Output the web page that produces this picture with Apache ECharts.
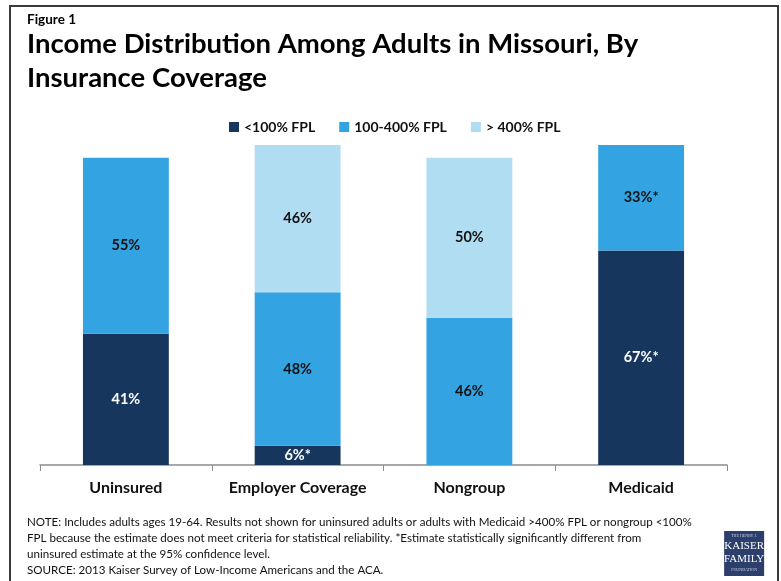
<!DOCTYPE html>
<html>
<head>
<meta charset="utf-8">
<script src="https://cdn.jsdelivr.net/npm/echarts@6/dist/echarts.min.js"></script>
<style>
  html, body { margin: 0; padding: 0; background: #fff; }
  #chart { width: 781px; height: 581px; }
</style>
</head>
<body>
<div id="chart"></div>
<script>
// Coverage groups along the x axis
const categories = ['Uninsured', 'Employer Coverage', 'Nongroup', 'Medicaid'];

// Share of adults in each income band (percent); null = not shown
const below100 = [41, 6, null, 67];
const mid100to400 = [55, 48, 46, 33];
const above400 = [null, 46, 50, null];

// Estimates significantly different from uninsured (marked with *)
const below100Star = [false, true, false, true];
const mid100to400Star = [false, false, false, true];
const above400Star = [false, false, false, false];

const seriesNames = ['<100% FPL', '100-400% FPL', '> 400% FPL'];

const FONT = 'Lato, "Open Sans", sans-serif';
const colors = ['#17365d', '#33a3e1', '#b1ddf3'];
const labelColors = ['#ffffff', '#111111', '#111111'];

function makeSeries(name, data, stars, idx) {
  return {
    name: name,
    type: 'bar',
    stack: 'total',
    barWidth: '50%',
    data: data,
    itemStyle: { color: colors[idx] },
    label: {
      show: true,
      position: 'inside',
      color: labelColors[idx],
      fontFamily: FONT,
      fontWeight: 'bold',
      fontSize: 14.5,
      formatter: p => (p.value == null ? '' : p.value + '%' + (stars[p.dataIndex] ? '*' : ''))
    }
  };
}

const chart = echarts.init(document.getElementById('chart'));
chart.setOption({
  animation: false,
  textStyle: { fontFamily: FONT },
  legend: {
    top: 115,
    left: 224,
    itemWidth: 10,
    itemHeight: 10,
    itemGap: 24,
    icon: 'rect',
    data: seriesNames,
    textStyle: { fontFamily: FONT, fontWeight: 'bold', fontSize: 14, color: '#111' }
  },
  grid: { left: 40, right: 54, top: 145, bottom: 116 },
  xAxis: {
    type: 'category',
    data: categories,
    axisLine: { lineStyle: { color: '#8c8c8c', width: 1.5 } },
    axisTick: { show: true, length: 6, lineStyle: { color: '#8c8c8c' } },
    axisLabel: { interval: 0, hideOverlap: false, margin: 15, fontFamily: FONT, fontWeight: 'bold', fontSize: 16, color: '#111' }
  },
  yAxis: {
    type: 'value',
    min: 0,
    max: 100,
    show: false
  },
  series: [
    makeSeries(seriesNames[0], below100, below100Star, 0),
    makeSeries(seriesNames[1], mid100to400, mid100to400Star, 1),
    makeSeries(seriesNames[2], above400, above400Star, 2)
  ],
  graphic: [
    { type: 'rect', shape: { x: 10, y: 6, width: 768, height: 585 },
      style: { fill: 'none', stroke: '#3a3a3a', lineWidth: 2 }, z: 100 },
    { type: 'text', left: 27, top: 13,
      style: { text: 'Figure 1', fontFamily: FONT, fontWeight: 'bold', fontSize: 13.5, fill: '#000' } },
    { type: 'text', left: 27, top: 27,
      style: { text: 'Income Distribution Among Adults in Missouri, By\nInsurance Coverage',
               fontFamily: FONT, fontWeight: 'bold', fontSize: 27.5, lineHeight: 34, fill: '#000' } },
    { type: 'text', left: 27, top: 514,
      style: { text: 'NOTE: Includes adults ages 19-64. Results not shown for uninsured adults or adults with Medicaid >400% FPL or nongroup <100%\nFPL because the estimate does not meet criteria for statistical reliability. *Estimate statistically significantly different from\nuninsured estimate at the 95% confidence level.\nSOURCE: 2013 Kaiser Survey of Low-Income Americans and the ACA.',
               fontFamily: FONT, fontSize: 11.6, lineHeight: 16, fill: '#111' } },
    { type: 'group', left: 724, top: 531, children: [
      { type: 'rect', shape: { x: 0, y: 0, width: 40, height: 45 }, style: { fill: '#2c3e6b' } },
      { type: 'text', style: { x: 20, y: 5, text: 'THE HENRY J.', align: 'center', verticalAlign: 'middle',
          fontFamily: 'Liberation Serif, serif', fontSize: 4, fill: '#c8d0e0' } },
      { type: 'text', style: { x: 20, y: 15, text: 'KAISER', align: 'center', verticalAlign: 'middle',
          fontFamily: 'Liberation Serif, serif', fontSize: 11, fill: '#ffffff' } },
      { type: 'text', style: { x: 20, y: 28, text: 'FAMILY', align: 'center', verticalAlign: 'middle',
          fontFamily: 'Liberation Serif, serif', fontSize: 11, fill: '#ffffff' } },
      { type: 'text', style: { x: 20, y: 39, text: 'FOUNDATION', align: 'center', verticalAlign: 'middle',
          fontFamily: 'Liberation Serif, serif', fontSize: 4, fill: '#c8d0e0' } }
    ] }
  ]
});
</script>
</body>
</html>
